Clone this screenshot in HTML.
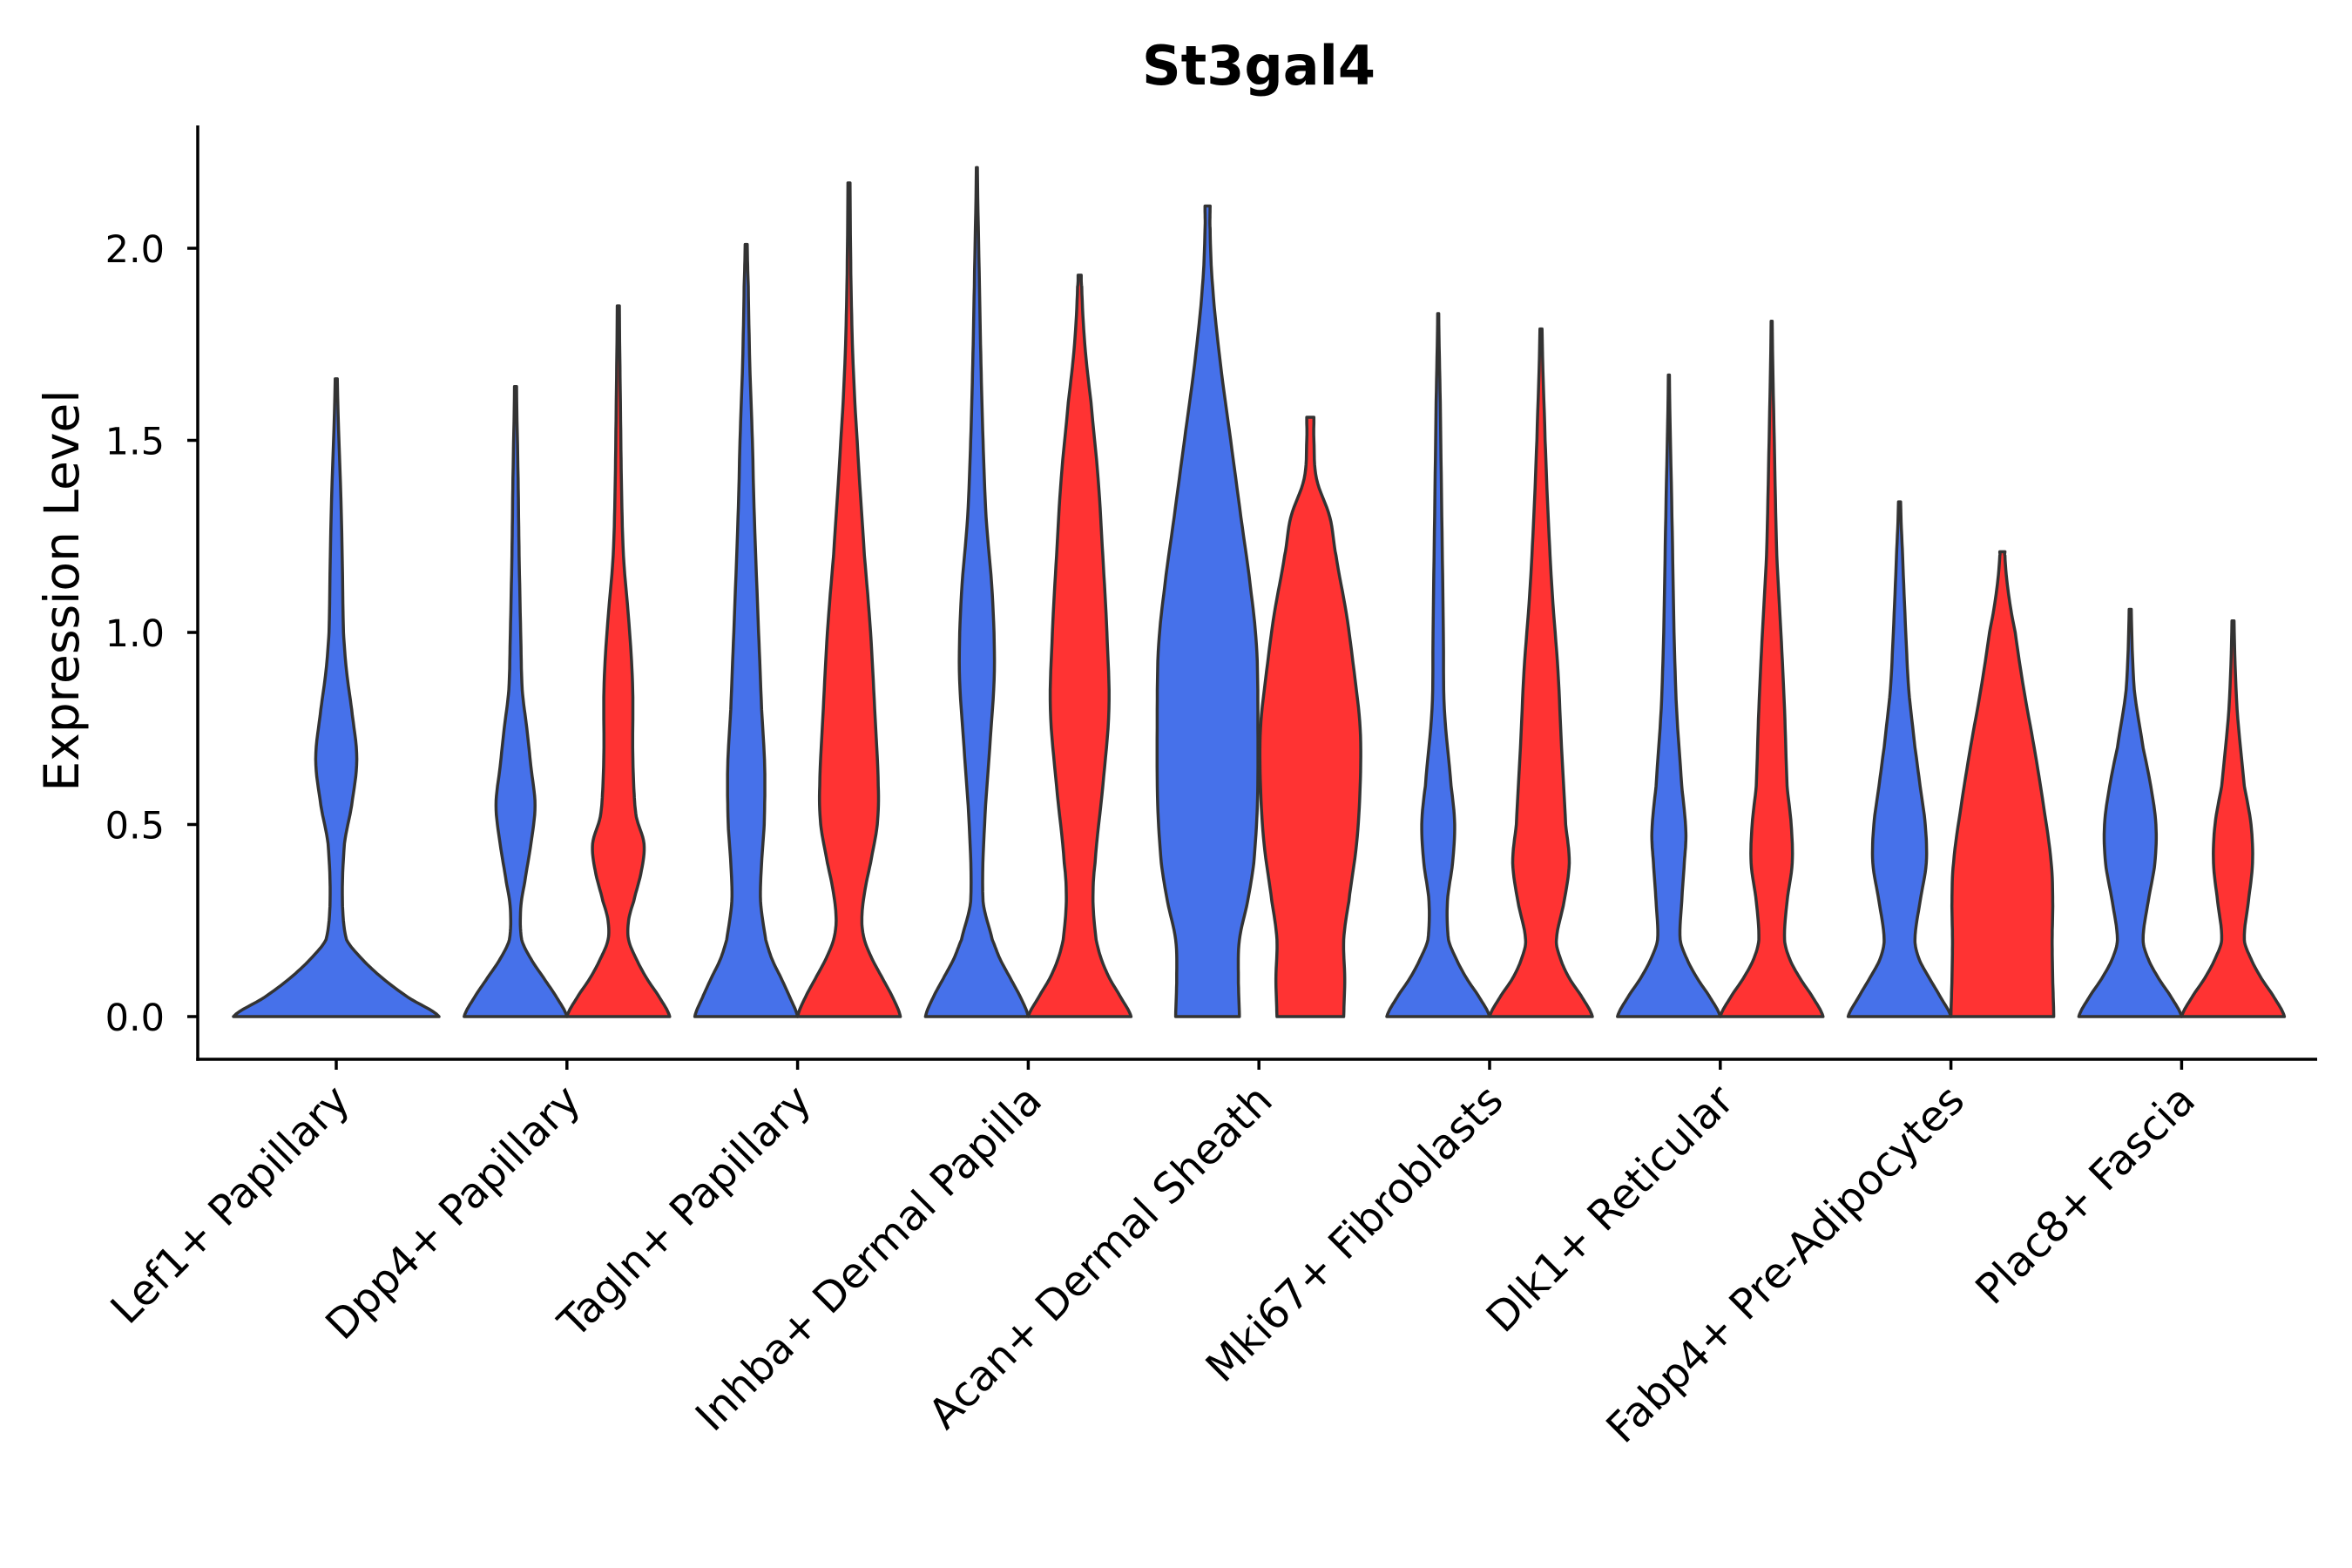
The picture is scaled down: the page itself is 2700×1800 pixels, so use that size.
<!DOCTYPE html>
<html><head><meta charset="utf-8"><style>
html,body{margin:0;padding:0;background:#fff;}
svg{display:block;font-family:"DejaVu Sans","Liberation Sans",sans-serif;}
</style></head><body>
<svg id="chart" width="2700" height="1800" viewBox="0 0 2700 1800">
<rect width="2700" height="1800" fill="#fff"/>
<text x="1445" y="97" font-size="62" font-weight="bold" text-anchor="middle" fill="#000">St3gal4</text>
<text transform="translate(90,678) rotate(-90)" font-size="55" text-anchor="middle" fill="#000">Expression Level</text>
<g id="plot"></g>
</svg>
<script>
const categories = ["Lef1+ Papillary","Dpp4+ Papillary","Tagln+ Papillary","Inhba+ Dermal Papilla","Acan+ Dermal Sheath","Mki67+ Fibroblasts","Dlk1+ Reticular","Fabp4+ Pre-Adipocytes","Plac8+ Fascia"];
const yTicks = [0, 0.5, 1.0, 1.5, 2.0];
const yTickLabels = ["0.0","0.5","1.0","1.5","2.0"];
// density profiles: [expression value, relative width]
const blueSeries = [
 [[0,1],[0.05,0.7],[0.1,0.45],[0.15,0.25],[0.2,0.1],[0.3,0.06],[0.45,0.08],[0.55,0.15],[0.67,0.2],[0.8,0.15],[0.9,0.1],[1.0,0.07],[1.3,0.05],[1.66,0.01]],
 [[0,1],[0.05,0.8],[0.1,0.55],[0.15,0.3],[0.2,0.12],[0.28,0.1],[0.35,0.18],[0.45,0.3],[0.55,0.38],[0.65,0.3],[0.75,0.22],[0.85,0.13],[1.0,0.1],[1.2,0.07],[1.4,0.05],[1.64,0.02]],
 [[0,1],[0.05,0.85],[0.1,0.68],[0.15,0.5],[0.2,0.38],[0.3,0.28],[0.4,0.3],[0.5,0.35],[0.65,0.36],[0.8,0.3],[1.0,0.24],[1.3,0.16],[1.5,0.12],[1.7,0.07],[1.9,0.04],[2.01,0.02]],
 [[0,1],[0.05,0.85],[0.1,0.65],[0.15,0.45],[0.2,0.3],[0.3,0.12],[0.5,0.15],[0.7,0.25],[0.9,0.34],[1.1,0.3],[1.3,0.18],[1.5,0.12],[1.7,0.08],[1.9,0.05],[2.21,0.01]],
 [[0,0.62],[0.1,0.6],[0.2,0.62],[0.3,0.78],[0.4,0.9],[0.55,0.97],[0.75,0.98],[0.95,0.96],[1.1,0.85],[1.3,0.65],[1.5,0.45],[1.7,0.25],[1.9,0.1],[2.05,0.05],[2.11,0.05]],
 [[0,1],[0.05,0.8],[0.1,0.55],[0.15,0.35],[0.2,0.2],[0.3,0.18],[0.4,0.28],[0.5,0.32],[0.6,0.25],[0.8,0.12],[1.0,0.1],[1.3,0.07],[1.6,0.04],[1.83,0.01]],
 [[0,1],[0.05,0.8],[0.1,0.55],[0.15,0.35],[0.2,0.22],[0.3,0.25],[0.4,0.3],[0.48,0.33],[0.6,0.25],[0.8,0.15],[1.0,0.1],[1.3,0.06],[1.67,0.01]],
 [[0,1],[0.05,0.8],[0.1,0.58],[0.15,0.38],[0.2,0.3],[0.3,0.4],[0.4,0.52],[0.5,0.5],[0.6,0.4],[0.7,0.3],[0.85,0.18],[1.0,0.12],[1.2,0.06],[1.34,0.02]],
 [[0,1],[0.05,0.8],[0.1,0.55],[0.15,0.35],[0.2,0.25],[0.3,0.35],[0.4,0.48],[0.5,0.5],[0.6,0.4],[0.7,0.25],[0.85,0.08],[1.06,0.02]]
];
const redSeries = [
 null,
 [[0,1],[0.05,0.8],[0.1,0.55],[0.15,0.35],[0.2,0.2],[0.25,0.2],[0.3,0.3],[0.38,0.45],[0.45,0.5],[0.52,0.35],[0.6,0.3],[0.7,0.28],[0.85,0.28],[1.0,0.22],[1.2,0.1],[1.4,0.06],[1.6,0.04],[1.85,0.02]],
 [[0,1],[0.05,0.85],[0.1,0.65],[0.15,0.45],[0.2,0.3],[0.25,0.25],[0.32,0.3],[0.4,0.42],[0.5,0.55],[0.6,0.57],[0.8,0.5],[1.0,0.42],[1.2,0.3],[1.5,0.16],[1.7,0.08],[1.9,0.04],[2.17,0.02]],
 [[0,1],[0.05,0.8],[0.1,0.58],[0.15,0.42],[0.2,0.32],[0.3,0.26],[0.4,0.3],[0.6,0.45],[0.8,0.57],[1.0,0.53],[1.2,0.45],[1.4,0.36],[1.6,0.22],[1.75,0.1],[1.9,0.04],[1.93,0.03]],
 [[0,0.65],[0.1,0.67],[0.2,0.65],[0.3,0.75],[0.45,0.9],[0.6,0.97],[0.75,0.97],[0.9,0.85],[1.05,0.7],[1.2,0.5],[1.3,0.38],[1.4,0.12],[1.5,0.07],[1.56,0.07]],
 [[0,1],[0.05,0.8],[0.1,0.55],[0.15,0.38],[0.2,0.3],[0.3,0.45],[0.4,0.55],[0.5,0.48],[0.7,0.4],[0.9,0.33],[1.1,0.22],[1.3,0.14],[1.5,0.08],[1.79,0.02]],
 [[0,1],[0.05,0.8],[0.1,0.55],[0.15,0.35],[0.2,0.25],[0.3,0.3],[0.4,0.4],[0.5,0.38],[0.6,0.3],[0.8,0.25],[1.0,0.18],[1.2,0.1],[1.5,0.05],[1.81,0.01]],
 [[0,1],[0.1,0.98],[0.2,0.97],[0.3,0.98],[0.4,0.95],[0.55,0.8],[0.7,0.62],[0.85,0.42],[1.0,0.25],[1.1,0.12],[1.2,0.05],[1.21,0.05]],
 [[0,1],[0.05,0.8],[0.1,0.55],[0.15,0.35],[0.2,0.22],[0.3,0.3],[0.4,0.38],[0.5,0.35],[0.6,0.22],[0.8,0.08],[1.03,0.02]]
];

const NS = "http://www.w3.org/2000/svg";
const g = document.getElementById("plot");
const X0 = 227, XR = 2660, YAX = 1216, YTOP = 144;
const y = v => 1167 - v * 441;
const xc = i => 386 + i * 264.8;
const HALF = 59;
function el(tag, attrs){ const e=document.createElementNS(NS,tag); for(const k in attrs) e.setAttribute(k,attrs[k]); g.appendChild(e); return e; }

function smooth(prof){
  const out = [];
  const n = prof.length;
  for (let i = 0; i < n - 1; i++) {
    const p0 = prof[Math.max(0, i-1)], p1 = prof[i], p2 = prof[i+1], p3 = prof[Math.min(n-1, i+2)];
    for (let s = 0; s < 8; s++) {
      const t = s / 8, t2 = t*t, t3 = t2*t;
      const f = (a,b,c,d) => 0.5*((2*b) + (-a+c)*t + (2*a-5*b+4*c-d)*t2 + (-a+3*b-3*c+d)*t3);
      const v = p1[0] + (p2[0]-p1[0])*t;
      let w = f(p0[1],p1[1],p2[1],p3[1]);
      const lo = Math.min(p1[1],p2[1]) * 0.85;
      w = Math.max(w, lo, 0.005);
      out.push([v, w]);
    }
  }
  out.push(prof[n-1]);
  return out;
}

function violin(prof, cx, hw, color, name){
  const sp = smooth(prof);
  const right = sp.map(p => [cx + p[1]*hw, y(p[0])]);
  const left = sp.slice().reverse().map(p => [cx - p[1]*hw, y(p[0])]);
  const pts = right.concat(left);
  const d = "M" + pts.map(p => p[0].toFixed(1)+","+p[1].toFixed(1)).join("L") + "Z";
  const p = el("path", {d:d, fill:color, stroke:"#333", "stroke-width":3.5, "stroke-linejoin":"round"});
  
  
}

categories.forEach((c, i) => {
  const cx = xc(i);
  if (redSeries[i] === null) {
    violin(blueSeries[i], cx, HALF*2, "#4671EA", "violin-blue-" + i);
  } else {
    violin(blueSeries[i], cx - HALF, HALF, "#4671EA", "violin-blue-" + i);
    violin(redSeries[i], cx + HALF, HALF, "#FF3333", "violin-red-" + i);
  }
  const t = el("line", {x1:cx, x2:cx, y1:YAX, y2:YAX+12, stroke:"#000", "stroke-width":3.5});
  
  
  const lx = cx + 18, ly = YAX + 50;
  const tx = el("text", {x:lx, y:ly, "font-size":48, "text-anchor":"end", transform:`rotate(-45 ${lx} ${ly})`, fill:"#000"});
  tx.textContent = c;
  
  
});

yTicks.forEach((v, i) => {
  const t = el("line", {x1:X0-12, x2:X0, y1:y(v), y2:y(v), stroke:"#000", "stroke-width":3.5});
  
  
  const tx = el("text", {x:X0-38, y:y(v)+16, "font-size":43, "text-anchor":"end", fill:"#000"});
  tx.textContent = yTickLabels[i];
  
  
});

const ya = el("line", {x1:X0, x2:X0, y1:YTOP, y2:YAX+1.75, stroke:"#000", "stroke-width":3.5});


const xa = el("line", {x1:X0-1.75, x2:XR, y1:YAX, y2:YAX, stroke:"#000", "stroke-width":3.5});


</script>
</body></html>
